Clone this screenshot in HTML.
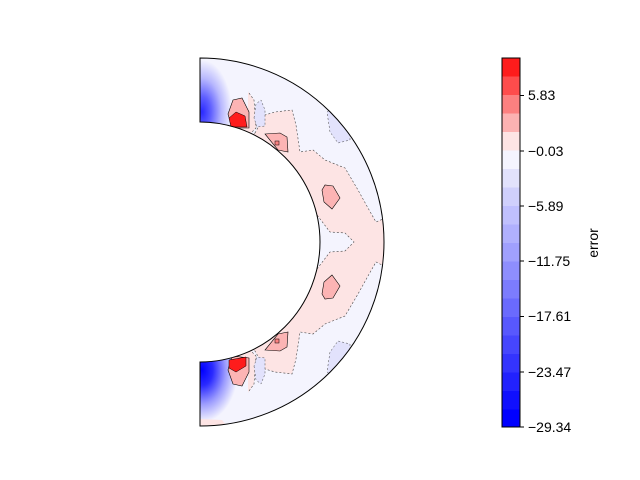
<!DOCTYPE html>
<html><head><meta charset="utf-8"><style>
body{margin:0;background:#fff}
svg{display:block}
text{font-family:"Liberation Sans","DejaVu Sans",sans-serif;font-size:14px;fill:#000}
</style></head><body>
<svg width="640" height="480" viewBox="0 0 640 480" xmlns="http://www.w3.org/2000/svg">
<defs>
<clipPath id="ann"><path d="M200,58 A184,184 0 0 1 200,426 L200,362 A120,120 0 0 0 200,122 Z"/></clipPath>
<radialGradient id="bu" cx="202" cy="112" r="1" gradientUnits="userSpaceOnUse" gradientTransform="translate(202,112) scale(30,52) translate(-202,-112)">
<stop offset="0" stop-color="#2a2aff"/><stop offset="0.3" stop-color="#6060ff"/><stop offset="0.65" stop-color="#b8b8fe"/><stop offset="1" stop-color="#f4f4fe"/></radialGradient>
<radialGradient id="bl" cx="202" cy="370" r="1" gradientUnits="userSpaceOnUse" gradientTransform="translate(202,370) scale(36,52) translate(-202,-370)">
<stop offset="0" stop-color="#0000ff"/><stop offset="0.3" stop-color="#2a2aff"/><stop offset="0.65" stop-color="#9a9afe"/><stop offset="1" stop-color="#f4f4fe"/></radialGradient>
</defs>
<g clip-path="url(#ann)">
<rect x="195" y="50" width="200" height="385" fill="#f4f4fe"/>
<!-- pink band -->
<path d="M255,133 L265,115 L275,112 L292,110 L296,125 L300,152 L313,150 L325,160 L345,168 L358,190 L368,208 L376,222 L392,215 L392,270 L376,262 L368,276 L358,294 L345,316 L325,324 L313,334 L300,332 L296,359 L292,374 L275,372 L265,369 L255,351 L240,345 L300,300 L317,269 L330,252 L345,251 L354,242 L345,233 L330,232 L317,215 L300,184 L240,139 Z" fill="#fde4e4" stroke="#444" stroke-width="0.6" stroke-dasharray="2,2"/>
<path d="M232,112 L236,90 L244,86 L254,100 L256,128 L248,136 L230,128 Z" fill="#fde4e4" stroke="#444" stroke-width="0.6" stroke-dasharray="2,2"/>
<path d="M232,372 L236,394 L244,398 L254,384 L256,356 L248,348 L230,356 Z" fill="#fde4e4" stroke="#444" stroke-width="0.6" stroke-dasharray="2,2"/>
<!-- left blues -->
<rect x="198" y="58" width="50" height="68" fill="url(#bu)"/>
<rect x="198" y="358" width="50" height="68" fill="url(#bl)"/>
<path d="M200,419 L222,420 L230,430 L200,430 Z" fill="#fde4e4"/>
<!-- red blobs -->
<path d="M228,114 L233,100 L242,98 L249,112 L249,128 L232,128 Z" fill="#fcb4b4" stroke="#000" stroke-width="0.6"/>
<path d="M229,118 L236,112 L245,116 L247,127 L231,127 Z" fill="#fe1c1c" stroke="#000" stroke-width="0.5"/>
<path d="M228,370 L233,384 L242,386 L249,372 L249,358 L232,356 Z" fill="#fcb4b4" stroke="#000" stroke-width="0.6"/>
<path d="M229,360 L246,357 L246,366 L236,372 L229,368 Z" fill="#fe1c1c" stroke="#000" stroke-width="0.5"/>
<path d="M265,134 L280,133 L287,137 L288,152 L278,150 Z" fill="#fcb4b4" stroke="#000" stroke-width="0.6"/>
<rect x="275" y="141" width="4" height="4" fill="#fc8080" stroke="#000" stroke-width="0.5"/>
<path d="M265,350 L280,351 L287,347 L288,332 L278,334 Z" fill="#fcb4b4" stroke="#000" stroke-width="0.6"/>
<rect x="275" y="339" width="4" height="4" fill="#fc8080" stroke="#000" stroke-width="0.5"/>
<path d="M322,190 L325,185 L333,186 L340,198 L332,209 L324,202 Z" fill="#fcb4b4" stroke="#000" stroke-width="0.6"/>
<path d="M322,294 L325,299 L333,298 L340,286 L332,275 L324,282 Z" fill="#fcb4b4" stroke="#000" stroke-width="0.6"/>
<!-- pale blue blobs -->
<path d="M254,118 L256,104 L261,100 L265,110 L265,126 L257,127 Z" fill="#e2e2fc" stroke="#444" stroke-width="0.5" stroke-dasharray="2,2"/>
<path d="M254,366 L256,380 L261,384 L265,374 L265,358 L257,357 Z" fill="#e2e2fc" stroke="#444" stroke-width="0.5" stroke-dasharray="2,2"/>
<path d="M327,112 L332,108 L350,126 L350,140 L338,143 L330,132 Z" fill="#e2e2fc" stroke="#444" stroke-width="0.5" stroke-dasharray="2,2"/>
<path d="M327,372 L332,376 L350,358 L350,344 L338,341 L330,352 Z" fill="#e2e2fc" stroke="#444" stroke-width="0.5" stroke-dasharray="2,2"/>
</g>
<path d="M200,58 A184,184 0 0 1 200,426 L200,362 A120,120 0 0 0 200,122 Z" fill="none" stroke="#000" stroke-width="1"/>
<!-- colorbar -->
<g>
<rect x="502" y="58.0" width="18" height="18.6" fill="#fe1c1c"/>
<rect x="502" y="76.5" width="18" height="18.6" fill="#fe4c4c"/>
<rect x="502" y="95.0" width="18" height="18.6" fill="#fc8080"/>
<rect x="502" y="113.5" width="18" height="18.6" fill="#fcb2b2"/>
<rect x="502" y="132.0" width="18" height="18.6" fill="#fde4e4"/>
<rect x="502" y="150.5" width="18" height="18.6" fill="#f4f4fe"/>
<rect x="502" y="169.0" width="18" height="18.6" fill="#e2e2fc"/>
<rect x="502" y="187.5" width="18" height="18.6" fill="#d0d0fc"/>
<rect x="502" y="206.0" width="18" height="18.6" fill="#c0c0fe"/>
<rect x="502" y="224.5" width="18" height="18.6" fill="#b0b0fe"/>
<rect x="502" y="243.0" width="18" height="18.6" fill="#a0a0fe"/>
<rect x="502" y="261.5" width="18" height="18.6" fill="#8e8efe"/>
<rect x="502" y="280.0" width="18" height="18.6" fill="#7c7cfe"/>
<rect x="502" y="298.5" width="18" height="18.6" fill="#6a6afe"/>
<rect x="502" y="317.0" width="18" height="18.6" fill="#5858fe"/>
<rect x="502" y="335.5" width="18" height="18.6" fill="#4646fe"/>
<rect x="502" y="354.0" width="18" height="18.6" fill="#3434fe"/>
<rect x="502" y="372.5" width="18" height="18.6" fill="#2222fe"/>
<rect x="502" y="391.0" width="18" height="18.6" fill="#1010fe"/>
<rect x="502" y="409.5" width="18" height="17.5" fill="#0000ff"/>
<rect x="502" y="58" width="18" height="369" fill="none" stroke="#000" stroke-width="1"/>
<g stroke="#000" stroke-width="1">
<line x1="520" y1="95.5" x2="524" y2="95.5"/><line x1="520" y1="151" x2="524" y2="151"/>
<line x1="520" y1="206" x2="524" y2="206"/><line x1="520" y1="261" x2="524" y2="261"/>
<line x1="520" y1="316.5" x2="524" y2="316.5"/><line x1="520" y1="372" x2="524" y2="372"/>
<line x1="520" y1="427" x2="524" y2="427"/></g>
<text x="528" y="100">5.83</text>
<text x="528" y="156">−0.03</text>
<text x="528" y="211">−5.89</text>
<text x="528" y="266">−11.75</text>
<text x="528" y="321">−17.61</text>
<text x="528" y="377">−23.47</text>
<text x="528" y="432">−29.34</text>
<text transform="translate(598,243) rotate(-90)" text-anchor="middle">error</text>
</g>
</svg>
</body></html>
